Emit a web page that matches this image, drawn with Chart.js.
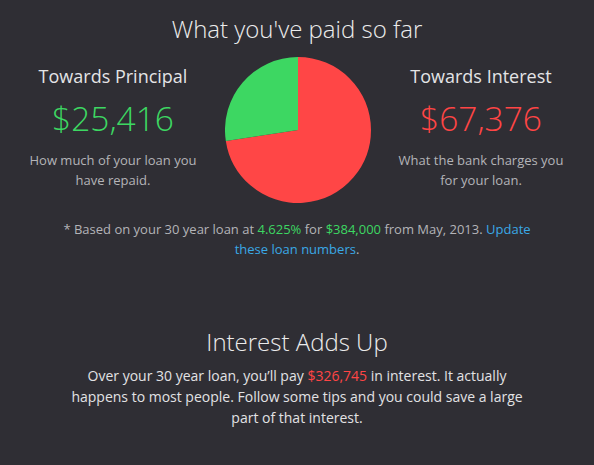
<!DOCTYPE html>
<html><head><meta charset="utf-8">
<script src="https://cdn.jsdelivr.net/npm/chart.js@4"></script>
<style>
html,body{margin:0;padding:0;background:#2f2e34;width:594px;height:465px;overflow:hidden;font-family:"Open Sans",sans-serif;}
.abs{position:absolute;text-align:center;white-space:nowrap;}
.h1{font-weight:300;font-size:24px;color:#ececec;}
.h2{font-weight:400;font-size:18px;color:#e4e4e6;}
.big{font-weight:300;font-size:33.5px;}
.desc{font-size:13px;color:#b4b4b8;line-height:20px;}
.g{color:#3dd762}.r{color:#ff4545}.b{color:#3aa9e6}
.para{font-size:14px;color:#e2e2e4;line-height:21px;}
</style></head><body>
<div class="abs h1" style="left:0;width:594px;top:12px;">What you've paid so far</div>
<div class="abs h2" style="left:13px;width:200px;top:64px;">Towards Principal</div>
<div class="abs big g" style="left:13px;width:200px;top:95px;" id="pv"></div>
<div class="abs desc" style="left:13px;width:200px;top:150px;">How much of your loan you<br>have repaid.</div>
<div class="abs h2" style="left:381px;width:200px;top:64px;">Towards Interest</div>
<div class="abs big r" style="left:381px;width:200px;top:95px;" id="iv"></div>
<div class="abs desc" style="left:381px;width:200px;top:150px;">What the bank charges you<br>for your loan.</div>
<div class="abs desc" style="left:0;width:594px;top:219px;">* Based on your 30 year loan at <span class="g">4.625%</span> for <span class="g">$384,000</span> from May, 2013. <span class="b">Update</span><br><span class="b">these loan numbers</span>.</div>
<div class="abs h1" style="left:0;width:594px;top:325px;">Interest Adds Up</div>
<div class="abs para" style="left:0;width:594px;top:365px;">Over your 30 year loan, you’ll pay <span class="r">$326,745</span> in interest. It actually<br>happens to most people. Follow some tips and you could save a large<br>part of that interest.</div>
<div style="position:absolute;left:225px;top:57px;width:146px;height:146px;"><canvas id="c" width="146" height="146"></canvas></div>
<script>
const categories = ["Towards Interest", "Towards Principal"];
const values = [67376, 25416];
const colors = ["#ff4646", "#3dd762"];
document.getElementById('pv').textContent = '$' + values[1].toLocaleString('en-US');
document.getElementById('iv').textContent = '$' + values[0].toLocaleString('en-US');
new Chart(document.getElementById('c'), {
  type: 'pie',
  data: { labels: categories, datasets: [{ data: values, backgroundColor: colors, borderWidth: 0 }] },
  options: {
    responsive: false, animation: false,
    layout: { padding: 0 },
    plugins: { legend: { display: false }, tooltip: { enabled: false } }
  }
});
</script>
</body></html>
